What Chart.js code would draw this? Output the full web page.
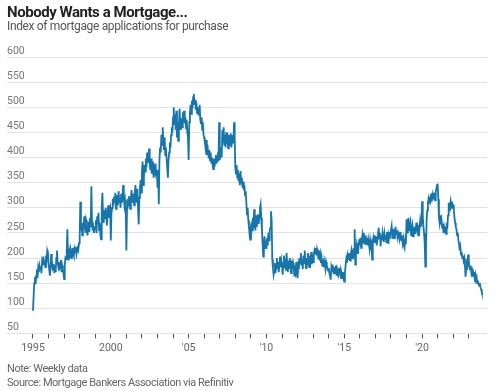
<!DOCTYPE html>
<html>
<head>
<meta charset="utf-8">
<script src="https://cdn.jsdelivr.net/npm/chart.js@4"></script>
<style>
  body { margin: 0; background: #fff; }
  #wrap { position: relative; width: 500px; height: 391px; overflow: hidden; }
  #chart { position: absolute; left: 0; top: 0; }
  .txt { position: absolute; left: 7px; white-space: nowrap; font-family: "Roboto", sans-serif; }
  #title { top: 3px; font-size: 15px; font-weight: bold; color: #222; letter-spacing: -0.45px; }
  #subtitle { top: 19px; font-size: 12px; color: #555; letter-spacing: -0.35px; }
  #note { top: 362px; font-size: 11px; color: #666; letter-spacing: -0.45px; }
  #source { top: 376px; font-size: 11px; color: #666; letter-spacing: -0.45px; }
</style>
</head>
<body>
<div id="wrap">
  <canvas id="chart" width="500" height="391"></canvas>
  <div id="title" class="txt">Nobody Wants a Mortgage...</div>
  <div id="subtitle" class="txt">Index of mortgage applications for purchase</div>
  <div id="note" class="txt">Note: Weekly data</div>
  <div id="source" class="txt">Source: Mortgage Bankers Association via Refinitiv</div>
</div>
<script>
// weekly series thinned to two readings a month, starting Jan 1995
let startYear = 1995;
let pointsPerYear = 24;
let purchaseIndex = [
  95, 125, 150, 162, 148, 165, 177, 160, 180, 172, 185, 178, 183, 170, 192, 185, 203, 188, 195, 182, 205, 198, 215, 210,
  190, 178, 165, 175, 208, 195, 182, 176, 188, 170, 185, 172, 200, 215, 190, 185, 175, 192, 180, 196, 172, 185, 178, 170,
  158, 185, 200, 198, 210, 257, 205, 195, 210, 200, 215, 205, 198, 220, 210, 205, 218, 212, 222, 208, 215, 225, 218, 230,
  240, 312, 255, 265, 245, 270, 258, 283, 262, 250, 275, 268, 245, 260, 272, 252, 280, 262, 343, 270, 255, 262, 250, 258,
  262, 275, 250, 283, 268, 290, 255, 270, 245, 237, 300, 330, 285, 270, 295, 278, 300, 285, 265, 290, 305, 280, 295, 300,
  235, 290, 300, 318, 305, 322, 310, 330, 298, 315, 325, 305, 333, 312, 320, 300, 328, 310, 318, 345, 322, 305, 315, 300,
  215, 300, 318, 305, 323, 310, 298, 320, 335, 312, 328, 318, 305, 330, 345, 322, 310, 338, 300, 267, 320, 340, 355, 330,
  370, 392, 345, 360, 385, 372, 398, 380, 410, 390, 402, 418, 385, 375, 398, 368, 392, 380, 360, 378, 372, 388, 365, 375,
  340, 375, 307, 395, 420, 410, 445, 425, 460, 430, 415, 440, 405, 420, 398, 380, 360, 395, 410, 430, 420, 445, 460, 450,
  480, 500, 465, 485, 455, 493, 440, 470, 433, 462, 497, 470, 455, 478, 460, 490, 475, 493, 468, 480, 458, 475, 450, 440,
  395, 470, 490, 505, 487, 513, 498, 520, 527, 505, 515, 495, 510, 488, 500, 492, 485, 505, 475, 467, 480, 455, 470, 445,
  440, 430, 420, 435, 405, 425, 410, 398, 415, 395, 410, 390, 400, 385, 377, 398, 382, 395, 405, 388, 400, 410, 392, 470,
  395, 410, 420, 400, 455, 430, 460, 425, 445, 420, 450, 435, 440, 418, 445, 430, 425, 448, 420, 435, 445, 428, 470, 440,
  380, 367, 385, 360, 375, 353, 368, 345, 373, 350, 360, 340, 352, 335, 345, 325, 333, 310, 287, 300, 275, 262, 247, 255,
  235, 262, 255, 280, 260, 297, 270, 255, 285, 262, 275, 287, 268, 280, 300, 307, 280, 257, 230, 203, 225, 243, 220, 235,
  218, 240, 225, 250, 235, 255, 260, 293, 275, 197, 180, 167, 175, 190, 170, 185, 200, 178, 192, 172, 188, 203, 182, 195,
  185, 167, 190, 205, 180, 198, 175, 210, 188, 172, 195, 180, 200, 185, 170, 195, 178, 190, 182, 165, 185, 175, 192, 170,
  160, 185, 178, 200, 190, 210, 185, 198, 178, 205, 190, 215, 195, 180, 200, 188, 210, 192, 182, 205, 195, 212, 188, 200,
  192, 205, 215, 210, 220, 205, 218, 212, 200, 215, 195, 205, 190, 200, 185, 197, 182, 195, 188, 178, 192, 185, 180, 175,
  180, 170, 165, 157, 180, 172, 187, 175, 168, 182, 170, 185, 165, 178, 172, 162, 180, 168, 175, 160, 170, 165, 172, 158,
  153, 170, 185, 197, 190, 205, 198, 210, 200, 195, 208, 215, 200, 210, 205, 218, 257, 187, 215, 225, 210, 230, 222, 237,
  225, 240, 220, 235, 245, 230, 250, 238, 228, 245, 232, 240, 225, 237, 228, 218, 235, 225, 230, 197, 228, 240, 232, 245,
  230, 243, 225, 238, 248, 260, 240, 250, 223, 245, 235, 250, 240, 232, 248, 238, 245, 230, 252, 240, 228, 245, 238, 250,
  255, 263, 240, 258, 245, 250, 238, 262, 248, 255, 242, 250, 245, 238, 252, 240, 235, 245, 230, 238, 225, 220, 235, 228,
  277, 250, 268, 280, 255, 262, 270, 245, 258, 265, 243, 255, 250, 262, 248, 270, 253, 260, 245, 265, 258, 273, 262, 270,
  313, 285, 263, 250, 230, 183, 220, 277, 295, 310, 318, 310, 322, 315, 328, 312, 325, 318, 330, 322, 315, 332, 338, 345,
  348, 317, 280, 270, 285, 267, 275, 260, 268, 250, 262, 255, 258, 248, 265, 263, 285, 310, 295, 305, 313, 300, 312, 305,
  305, 295, 280, 270, 262, 257, 245, 250, 235, 228, 215, 222, 207, 212, 200, 205, 195, 200, 185, 163, 178, 197, 190, 207,
  195, 180, 177, 185, 170, 175, 163, 172, 168, 160, 167, 158, 162, 150, 155, 148, 145, 150, 142, 138, 132, 127
];

let tickYears = [
  1995, 1996, 1997, 1998, 1999, 2000, 2001, 2002, 2003, 2004, 2005, 2006, 2007, 2008, 2009,
  2010, 2011, 2012, 2013, 2014, 2015, 2016, 2017, 2018, 2019, 2020, 2021, 2022, 2023
];
let tickLabels = { 1995: "1995", 2000: "2000", 2005: "'05", 2010: "'10", 2015: "'15", 2020: "'20" };
let yTicks = [50, 100, 150, 200, 250, 300, 350, 400, 450, 500, 550, 600];

let points = purchaseIndex.map((v, i) => ({ x: startYear + i / pointsPerYear, y: v }));

let fontFamily = '"Roboto", sans-serif';

new Chart("chart", {
  type: "line",
  data: {
    datasets: [
      {
        data: points,
        borderColor: "#1675aa",
        borderWidth: 1.8,
        pointRadius: 0,
        tension: 0,
      },
    ],
  },
  options: {
    responsive: false,
    animation: false,
    layout: {
      padding: { top: 57, left: 7, right: 13, bottom: 32 },
    },
    plugins: {
      legend: { display: false },
      tooltip: { enabled: false },
    },
    scales: {
      x: {
        type: "linear",
        min: 1993.33,
        max: 2024.17,
        afterBuildTicks: (axis) => {
          axis.ticks = tickYears.map((y) => ({ value: y }));
        },
        ticks: {
          autoSkip: false,
          maxRotation: 0,
          padding: 4,
          color: "#666",
          font: { family: fontFamily, size: 10.5 },
          callback: (v) => tickLabels[v] || "",
        },
        grid: {
          drawOnChartArea: false,
          tickLength: 5,
          color: "#555",
        },
        border: { display: false },
      },
      y: {
        min: 50,
        max: 600,
        afterBuildTicks: (axis) => {
          axis.ticks = yTicks.map((v) => ({ value: v }));
        },
        ticks: {
          mirror: true,
          padding: 0,
          labelOffset: -6,
          color: "#777",
          font: { family: fontFamily, size: 10.5 },
        },
        grid: {
          color: "#e3e3e3",
          drawTicks: false,
        },
        border: { display: false },
      },
    },
  },
});
</script>
</body>
</html>
